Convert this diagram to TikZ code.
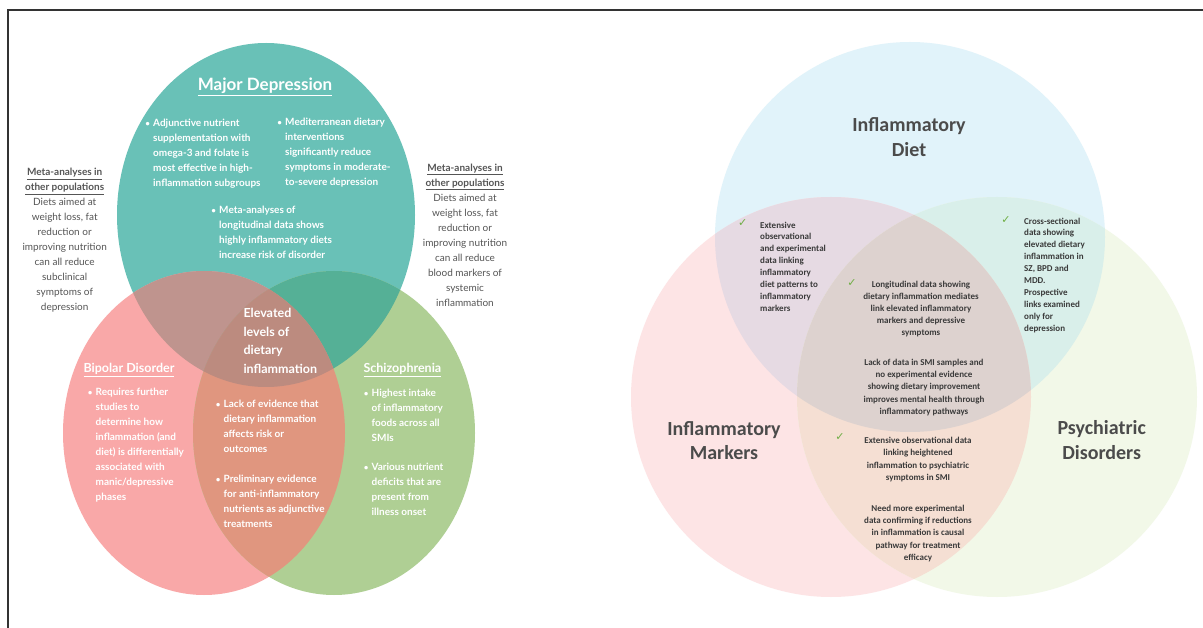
\documentclass[tikz,border=0pt]{standalone}
\usepackage{fontspec}
\setmainfont{Lato}
\newfontfamily\carl{Carlito}
\newfontfamily\djv{DejaVu Sans}
\definecolor{cTeal}{HTML}{69C1B7}
\definecolor{cPink}{HTML}{F9A8A8}
\definecolor{cGreen}{HTML}{AFCF94}
\definecolor{cTR}{HTML}{BF948E}
\definecolor{cTG}{HTML}{55B096}
\definecolor{cRG}{HTML}{E0967F}
\definecolor{cTRG}{HTML}{BC8B7F}
\definecolor{rBlue}{HTML}{E1F3FA}
\definecolor{rPink}{HTML}{FDE4E5}
\definecolor{rGreen}{HTML}{F2F8E8}
\definecolor{rBP}{HTML}{E6DAE3}
\definecolor{rBG}{HTML}{D9EFEA}
\definecolor{rPG}{HTML}{F5DFD3}
\definecolor{rBPG}{HTML}{DDD2CF}
\definecolor{sideGray}{HTML}{555555}
\definecolor{rText}{HTML}{3A3A3A}
\definecolor{rTitle}{HTML}{4B4B4B}
\definecolor{ckGreen}{HTML}{6FAE45}
\newcommand\bitem{\makebox[11pt][c]{\fontsize{8}{8}\selectfont\textbullet}}
\newcommand\bind{\hspace*{11pt}}
\begin{document}
\begin{tikzpicture}[x=1pt,y=-1pt,
  wt/.style={text=white, font=\bfseries\fontsize{10}{14.9}\selectfont, align=left, inner sep=0pt, anchor=north west},
  hd/.style={text=white, font=\bfseries\fontsize{12.5}{15}\selectfont, inner sep=0pt, anchor=base west},
  side/.style={text=sideGray, font=\fontsize{10}{15}\selectfont, align=center, inner sep=0pt, anchor=north},
  rt/.style={text=rTitle, font=\carl\bfseries\fontsize{20}{24.5}\selectfont, align=center, inner sep=0pt, anchor=north},
  rs/.style={text=rText, font=\carl\bfseries\fontsize{9}{11.9}\selectfont, inner sep=0pt, anchor=north, align=center},
  ck/.style={text=ckGreen, font=\djv\fontsize{11}{11}\selectfont, inner sep=0pt}]
\useasboundingbox (0,0) rectangle (1203,628);
\fill[white] (0,0) rectangle (1203,628);
% frame
\draw[line width=1.3pt, black!80] (8,628) -- (8,10) -- (1203,10);
% ---------- left Venn ----------
\def\ET{(266,215) ellipse [x radius=149pt, y radius=172pt]}
\def\ER{(204,433) ellipse [x radius=141pt, y radius=162pt]}
\def\EG{(334,433) ellipse [x radius=141pt, y radius=162pt]}
\fill[cTeal] \ET;
\fill[cPink] \ER;
\fill[cGreen] \EG;
\begin{scope}
  \clip \ET;
  \fill[cTR] \ER;
  \fill[cTG] \EG;
\end{scope}
\begin{scope}
  \clip \ER;
  \fill[cRG] \EG;
\end{scope}
\begin{scope}
  \clip \ET; \clip \ER;
  \fill[cTRG] \EG;
\end{scope}
% ---------- right Venn ----------
\def\CB{(910,237) circle [radius=195pt]}
\def\CR{(831,397) circle [radius=200pt]}
\def\CG{(997,397) circle [radius=200pt]}
\fill[rBlue] \CB;
\fill[rPink] \CR;
\fill[rGreen] \CG;
\begin{scope}
  \clip \CB;
  \fill[rBP] \CR;
  \fill[rBG] \CG;
\end{scope}
\begin{scope}
  \clip \CR;
  \fill[rPG] \CG;
\end{scope}
\begin{scope}
  \clip \CB; \clip \CR;
  \fill[rBPG] \CG;
\end{scope}
% ---------- left texts ----------
\node[hd, font=\bfseries\fontsize{17}{20}\selectfont, anchor=base] (mdt) at (265,91) {\underline{Major Depression}};
\node[wt] (md1) at (142,119) {\bitem Adjunctive nutrient\\\bind supplementation with\\\bind omega-3 and folate is\\\bind most effective in high-\\\bind inflammation subgroups};
\node[wt] (md2) at (274,118.3) {\bitem Mediterranean dietary\\\bind interventions\\\bind significantly reduce\\\bind symptoms in moderate-\\\bind to-severe depression};
\node[wt] (md3) at (208,206) {\bitem Meta-analyses of\\\bind longitudinal data shows\\\bind highly inflammatory diets\\\bind increase risk of disorder};
\node[wt, font=\bfseries\fontsize{12.5}{18.7}\selectfont] (elev) at (243.3,308) {Elevated\\levels of\\dietary\\inflammation};
\node[hd] (bpt) at (83.3,372.5) {\underline{Bipolar Disorder}};
\node[hd] (szt) at (363.3,372.5) {\underline{Schizophrenia}};
\node[wt] (bp1) at (84.5,388.3) {\bitem Requires further\\\bind studies to\\\bind determine how\\\bind inflammation (and\\\bind diet) is differentially\\\bind associated with\\\bind manic/depressive\\\bind phases};
\node[wt] (c1) at (212.5,400.3) {\bitem Lack of evidence that\\\bind dietary inflammation\\\bind affects risk or\\\bind outcomes};
\node[wt] (c2) at (212.5,475) {\bitem Preliminary evidence\\\bind for anti-inflammatory\\\bind nutrients as adjunctive\\\bind treatments};
\node[wt] (sz1) at (360.5,389) {\bitem Highest intake\\\bind of inflammatory\\\bind foods across all\\\bind SMIs};
\node[wt] (sz2) at (360.5,463.3) {\bitem Various nutrient\\\bind deficits that are\\\bind present from\\\bind illness onset};
\node[side] (sl) at (64.7,168) {{\bfseries\underline{Meta-analyses in}}\\{\bfseries\underline{other populations}}\\Diets aimed at\\weight loss, fat\\reduction or\\improving nutrition\\can all reduce\\subclinical\\symptoms of\\depression};
\node[side] (sr) at (465,163.5) {{\bfseries\underline{Meta-analyses in}}\\{\bfseries\underline{other populations}}\\Diets aimed at\\weight loss, fat\\reduction or\\improving nutrition\\can all reduce\\blood markers of\\systemic\\inflammation};
% ---------- right texts ----------
\node[rt] (id) at (909,117.5) {Inflammatory\\Diet};
\node[rt] (im) at (724,421) {Inflammatory\\Markers};
\node[rt] (pd) at (1101.7,420.5) {Psychiatric\\Disorders};
\node[rs, anchor=north west, align=left] (t1) at (760,221.5) {Extensive\\observational\\and experimental\\data linking\\inflammatory\\diet patterns to\\inflammatory\\markers};
\node[rs, anchor=north west, align=left] (t2) at (1024,217.5) {Cross-sectional\\data showing\\elevated dietary\\inflammation in\\SZ, BPD and\\MDD.\\Prospective\\links examined\\only for\\depression};
\node[rs] (t3) at (921,281) {Longitudinal data showing\\dietary inflammation mediates\\link elevated inflammatory\\markers and depressive\\symptoms};
\node[rs, font=\carl\bfseries\fontsize{9}{12.2}\selectfont] (t4) at (924,359) {Lack of data in SMI samples and\\no experimental evidence\\showing dietary improvement\\improves mental health through\\inflammatory pathways};
\node[rs, font=\carl\bfseries\fontsize{9}{12.4}\selectfont] (t5) at (918,437) {Extensive observational data\\linking heightened\\inflammation to psychiatric\\symptoms in SMI};
\node[rs, font=\carl\bfseries\fontsize{9}{12.2}\selectfont] (t6) at (918,505) {Need more experimental\\data confirming if reductions\\in inflammation is causal\\pathway for treatment\\efficacy};
\node[ck] (k1) at (742.7,223) {✓};
\node[ck] (k2) at (1006,220) {✓};
\node[ck] (k3) at (852,283) {✓};
\node[ck] (k4) at (840,437) {✓};
\end{tikzpicture}
\end{document}
